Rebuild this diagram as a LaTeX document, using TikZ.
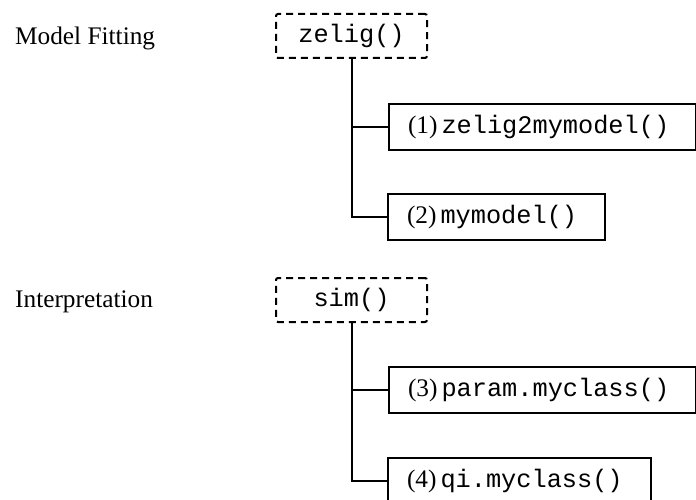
\documentclass[tikz,border=0pt]{standalone}
\usepackage{fontspec}
\setmainfont{Liberation Serif}
\setmonofont{Liberation Mono}
\newcommand{\numsep}{\hspace{4pt}}
\begin{document}
\begin{tikzpicture}[x=1pt,y=1pt,
  every node/.style={font=\fontsize{25.3}{29}\selectfont},
  label/.style={anchor=base west, inner sep=0pt},
  dbox/.style={draw, line width=2pt, dash pattern=on 7pt off 5pt, rounded corners=2pt,
    minimum width=151pt, minimum height=44pt, inner sep=0pt},
  fbox/.style={draw, line width=2pt, anchor=west, minimum height=46pt,
    inner xsep=19pt, inner ysep=0pt, align=left},
  conn/.style={line width=2pt}]
\useasboundingbox (0,0) rectangle (696,-500);
\node[label] (mf) at (15,-45) {Model Fitting};
\node[dbox] (zelig) at (351.5,-36) {\texttt{zelig()}};
\node[fbox, text width=269pt] (m1) at (388,-127) {(1)\numsep\texttt{zelig2mymodel()}};
\node[fbox, text width=179pt] (m2) at (387,-217) {(2)\numsep\texttt{mymodel()}};
\draw[conn] (zelig.south) |- (m1.west);
\draw[conn] (zelig.south) |- (m2.west);
\node[label] (ip) at (15,-307) {Interpretation};
\node[dbox] (sim) at (351.5,-300) {\texttt{sim()}};
\node[fbox, text width=269pt] (m3) at (388,-390) {(3)\numsep\texttt{param.myclass()}};
\node[fbox, text width=225pt] (m4) at (387,-481) {(4)\numsep\texttt{qi.myclass()}};
\draw[conn] (sim.south) |- (m3.west);
\draw[conn] (sim.south) |- (m4.west);
\end{tikzpicture}
\end{document}
